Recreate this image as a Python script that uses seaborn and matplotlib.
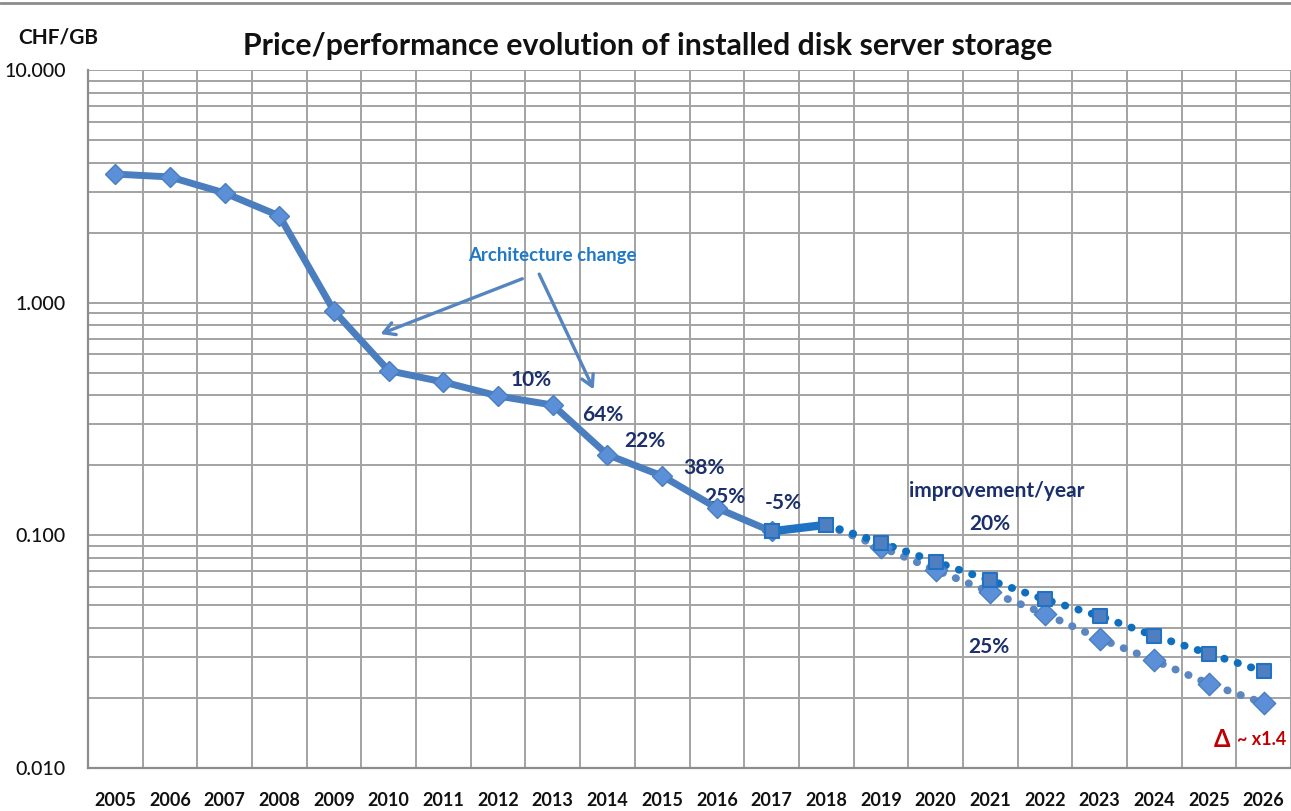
import numpy as np
import pandas as pd
import matplotlib
matplotlib.use("Agg")
import matplotlib.pyplot as plt
import matplotlib.ticker as mticker
from matplotlib.lines import Line2D
import seaborn as sns

# ---------------- data ----------------
years_hist = [2005, 2006, 2007, 2008, 2009, 2010, 2011, 2012, 2013, 2014, 2015, 2016, 2017]
price_hist = [3.57, 3.47, 2.96, 2.36, 0.92, 0.51, 0.456, 0.397, 0.363, 0.222, 0.180, 0.131, 0.104]

years_recent = [2017, 2018]
price_recent = [0.104, 0.111]

years_proj = [2018, 2019, 2020, 2021, 2022, 2023, 2024, 2025, 2026]
proj_20 = [0.111, 0.093, 0.077, 0.064, 0.053, 0.045, 0.037, 0.031, 0.026]
proj_25 = [0.111, 0.089, 0.071, 0.057, 0.046, 0.036, 0.029, 0.023, 0.019]

year_labels = [str(y) for y in range(2005, 2027)]
y_ticks = [0.01, 0.1, 1.0, 10.0]
y_tick_labels = ["0.010", "0.100", "1.000", "10.000"]

pct_labels = ["10%", "64%", "22%", "38%", "25%", "-5%"]
pct_pos_x = [2012.6, 2013.91, 2014.68, 2015.76, 2016.15, 2017.21]
pct_pos_y = [0.465, 0.329, 0.255, 0.195, 0.146, 0.138]

# ---------------- style ----------------
sns.set_style("white")
plt.rcParams['font.family'] = ['Lato', 'DejaVu Sans']

fig = plt.figure(figsize=(12.91, 8.11), dpi=100)
ax = fig.add_axes([88/1291, 1-768/811, (1291-88)/1291, (768-70)/811])

grid_c = "#A3A3A3"
main_c = "#4A7EBF"
diamond_fill = "#5B8FD8"
bright_c = "#1F72C4"
square_fill = "#4F7FC0"
dot20_c = "#0E6FC0"
dot25_c = "#5A86C2"
navy = "#1A2F6B"

df_hist = pd.DataFrame({"year": years_hist, "price": price_hist})
df_recent = pd.DataFrame({"year": years_recent, "price": price_recent})
df_p20 = pd.DataFrame({"year": years_proj, "price": proj_20})
df_p25 = pd.DataFrame({"year": years_proj, "price": proj_25})

# projections (dotted)
sns.lineplot(data=df_p25, x="year", y="price", ax=ax, color=dot25_c, lw=5.6,
             linestyle=(0, (0.05, 1.75)), dash_capstyle="round", zorder=3)
sns.lineplot(data=df_p20, x="year", y="price", ax=ax, color=dot20_c, lw=5.6,
             linestyle=(0, (0.05, 1.75)), dash_capstyle="round", zorder=3)

# historic line
sns.lineplot(data=df_hist, x="year", y="price", ax=ax, color=main_c, lw=5.0,
             marker="D", markersize=10.5, markerfacecolor=diamond_fill,
             markeredgecolor=main_c, markeredgewidth=1.0, zorder=4)
sns.lineplot(data=df_recent, x="year", y="price", ax=ax, color=bright_c, lw=6.0,
             marker="s", markersize=10.5, markerfacecolor=square_fill,
             markeredgecolor=bright_c, markeredgewidth=1.5, zorder=5)

# projection markers
sns.scatterplot(data=df_p25.iloc[1:], x="year", y="price", ax=ax, marker="D", s=130,
                color=diamond_fill, edgecolor=main_c, linewidth=1.0, zorder=5)
sns.scatterplot(data=df_p20.iloc[1:], x="year", y="price", ax=ax, marker="s", s=115,
                color=square_fill, edgecolor=bright_c, linewidth=1.5, zorder=6)

# ---------------- axes ----------------
ax.set_yscale("log")
ax.set_ylim(0.01, 10)
ax.set_xlim(2004.5, 2026.5)
ax.set_xticks(range(2005, 2027))
ax.set_xticklabels(year_labels, fontsize=13, fontweight="bold", color="#111111")
ax.set_xticks(np.arange(2004.5, 2027, 1.0), minor=True)
ax.yaxis.set_major_locator(mticker.FixedLocator(y_ticks))
ax.yaxis.set_major_formatter(mticker.FixedFormatter(y_tick_labels))
ax.yaxis.set_minor_locator(mticker.LogLocator(base=10, subs=np.arange(2, 10)))
ax.yaxis.set_minor_formatter(mticker.NullFormatter())
for t in ax.get_yticklabels():
    t.set_fontsize(14)
    t.set_color("#111111")
    t.set_fontweight("medium")
ax.tick_params(axis="both", which="both", length=0)
ax.tick_params(axis="x", pad=17)
ax.tick_params(axis="y", pad=16)
ax.set_xlabel("")
ax.set_ylabel("")

ax.grid(False)
ax.grid(True, axis="x", which="minor", color=grid_c, lw=1.4)
ax.grid(True, axis="y", which="both", color=grid_c, lw=1.4)
ax.set_axisbelow(True)
for s in ["top", "right"]:
    ax.spines[s].set_visible(False)
for s in ["left", "bottom"]:
    ax.spines[s].set_color("#8C8C8C")
    ax.spines[s].set_linewidth(1.6)

# ---------------- text ----------------
fig.text(648/1291, 1-46/811, "Price/performance evolution of installed disk server storage",
         ha="center", va="center", fontsize=21.8, fontweight="bold", color="#111111")
fig.text(18/1291, 1-37/811, "CHF/GB", ha="left", va="center", fontsize=15,
         fontweight="bold", color="#111111")

ax.text(2013.0, 1.60, "Architecture change", ha="center", va="center",
        fontsize=13.4, fontweight="bold", color="#2079C7")
arrow_kw = dict(arrowstyle="->,head_length=0.8,head_width=0.45", color="#5585C0", lw=2.4)
ax.annotate("", xy=(2009.80, 0.726), xytext=(2012.49, 1.28), arrowprops=arrow_kw)
ax.annotate("", xy=(2013.77, 0.413), xytext=(2012.73, 1.36), arrowprops=arrow_kw)

for lab, px, py in zip(pct_labels, pct_pos_x, pct_pos_y):
    ax.text(px, py, lab, ha="center", va="center", fontsize=15, fontweight="bold", color=navy)

ax.text(2021.12, 0.155, "improvement/year", ha="center", va="center",
        fontsize=15, fontweight="bold", color=navy)
ax.text(2020.99, 0.112, "20%", ha="center", va="center", fontsize=15, fontweight="bold", color=navy)
ax.text(2020.97, 0.033, "25%", ha="center", va="center", fontsize=15, fontweight="bold", color=navy)
ax.text(2025.23, 0.0132, "Δ", ha="center", va="center", fontsize=17, fontweight="bold", color="#C00000")
ax.text(2025.96, 0.0132, "~ x1.4", ha="center", va="center", fontsize=13, fontweight="bold", color="#C00000")

fig.add_artist(Line2D([0, 1], [1-3/811, 1-3/811], transform=fig.transFigure, color="#8C8C8C", lw=2))

fig.savefig("out.png", dpi=100)
